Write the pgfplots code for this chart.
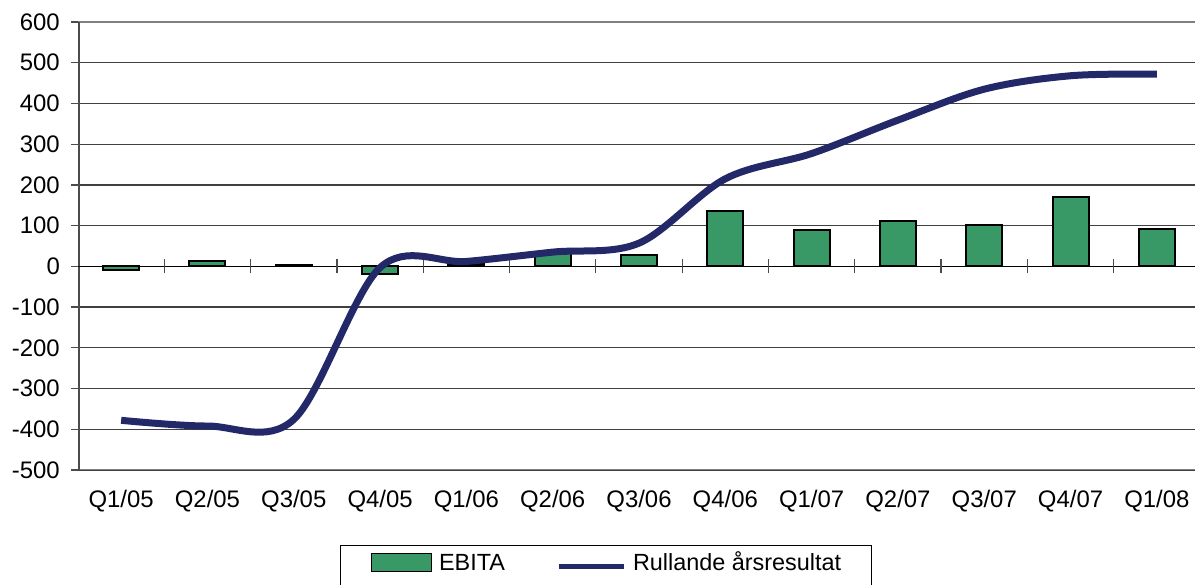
\documentclass[border=0pt]{standalone}
\usepackage{pgfplots}
\pgfplotsset{compat=1.18}
\usepackage{fontspec}
\setmainfont{Liberation Sans}
\definecolor{ebgreen}{RGB}{56,153,103}
\definecolor{navy}{RGB}{35,40,104}
\pgfplotsset{
  barleg/.style={legend image code/.code={\draw[##1, line width=1.5bp] (0bp,-2.3bp) rectangle (60bp,16bp);}},
  lineleg/.style={legend image code/.code={\draw[##1, line width=5bp] (0bp,2.7bp) -- (65bp,2.7bp);}},
}
\pgfplotstableread{
x ebita rull
0 -9 -378
1 13 -392
2 4 -376
3 -19 -3
4 7 12
5 32 35
6 27 57
7 136 215
8 89 277
9 111 359
10 102 435
11 170 468
12 91 472
}\datatable
\begin{document}
\fontsize{24}{28}\selectfont
\begin{tikzpicture}
\useasboundingbox (0,0) rectangle (1195bp,585bp);
\begin{axis}[
 at={(78bp,115bp)}, anchor=south west, scale only axis,
 width=1122bp, height=448bp,
 xmin=-0.5, xmax=12.5, ymin=-500, ymax=600,
 xtick={0,...,12},
 xticklabels={Q1/05,Q2/05,Q3/05,Q4/05,Q1/06,Q2/06,Q3/06,Q4/06,Q1/07,Q2/07,Q3/07,Q4/07,Q1/08},
 ytick={-500,-400,...,600},
 yticklabels={-500,-400,-300,-200,-100,0,100,200,300,400,500,600},
 ymajorgrids, grid style={black!75, line width=1.2bp},
 axis line style={draw=none},
 x tick style={draw=none},
 y tick style={draw=black!70, line width=1.2bp},
 tick align=outside, major tick length=7bp,
 yticklabel style={anchor=east, inner sep=0pt, xshift=-11bp},
 xticklabel style={anchor=north, inner sep=0pt, yshift=-13bp},
 ticklabel style={font=\fontsize{24}{28}\selectfont},
 legend columns=2,
 legend style={at={(axis description cs:0.2335,-0.1674)}, anchor=north west,
   draw=black, line width=1.2bp, inner xsep=30bp, inner ysep=7bp,
   font=\fontsize{23.5}{28}\selectfont, legend cell align=left,
   /tikz/every even column/.append style={column sep=51bp},
   /tikz/every odd column/.append style={column sep=7bp},
   nodes={inner sep=0pt, text height=17bp, text depth=14bp}},
]
\draw[black!50, line width=2bp] (rel axis cs:0,1) -- (rel axis cs:1,1);
\draw[black!50, line width=2bp] (rel axis cs:0,0) -- (rel axis cs:1,0);
\draw[black!70, line width=3bp] (rel axis cs:0,0) -- (rel axis cs:0,1);
\draw[black, line width=1.5bp] (axis cs:-0.5,0) -- (axis cs:12.5,0);
\pgfplotsinvokeforeach{0.5,1.5,...,11.5}{
  \draw[black!70, line width=1.2bp] ([yshift=-7bp]axis cs:#1,0) -- ([yshift=7bp]axis cs:#1,0);
}
\addplot[ybar, bar width=36bp, bar shift=0pt, fill=ebgreen, draw=black, line width=2bp, barleg]
  table[x=x, y=ebita] {\datatable};
\addlegendentry{EBITA}
\addplot[navy, line width=7bp, smooth, tension=0.55, mark=none, lineleg]
  table[x=x, y=rull] {\datatable};
\addlegendentry{Rullande årsresultat}
\end{axis}
\end{tikzpicture}
\end{document}
